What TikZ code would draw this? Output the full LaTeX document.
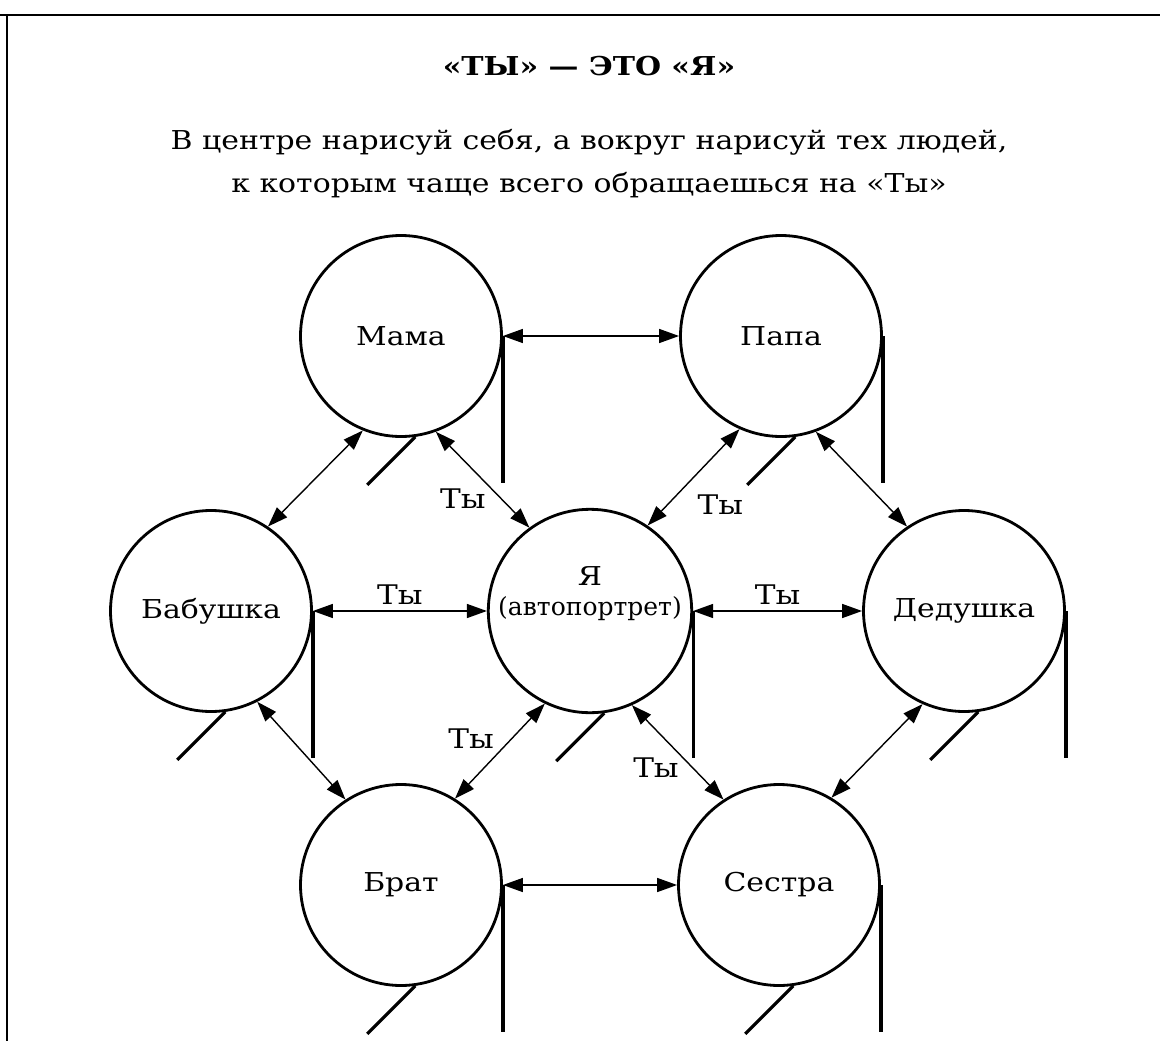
\documentclass[tikz,border=0pt]{standalone}
\usepackage{fontspec}
\setmainfont{DejaVu Serif}[FakeStretch=1.15]
\newfontfamily\plainserif{DejaVu Serif}
\usetikzlibrary{positioning,arrows.meta}
\tikzset{
  person/.style={circle, draw, line width=2.8pt, minimum size=201pt,
              inner sep=0pt, align=center, font=\fontsize{26}{30}\selectfont},
  link/.style={<->, line width=1.4pt},
  stick/.style={line width=3.2pt},
  tylabel/.style={font=\fontsize{27}{28}\selectfont, inner sep=1pt},
}

\begin{document}
\begin{tikzpicture}[x=1pt, y=-1pt, >={Triangle[length=20pt,width=14pt]}]
\useasboundingbox (0,0) rectangle (1160,1041);
% frame
\draw[line width=2.4pt] (0,15) -- (1160,15);
\draw[line width=2.4pt] (7,15) -- (7,1041);

\node[font=\bfseries\fontsize{26}{30}\selectfont] (title) at (589,66) {«ТЫ» — ЭТО «Я»};
\node[font=\fontsize{26}{43}\selectfont, align=center] (task) at (589,164)
  {В центре нарисуй себя, а вокруг нарисуй тех людей,\\
   к которым чаще всего обращаешься на «Ты»};

\node[person] (mama) at (401,336) {Мама};
\node[person] (papa) at (781,336) {Папа};
\node[person] (bab) at (211,611) {Бабушка};
\node[person] (ya) at (590,611)
  {Я\\{\plainserif\fontsize{25}{30}\selectfont(автопортрет)}\\\strut};
\node[person] (ded) at (964,611) {Дедушка};
\node[person] (brat) at (401,885) {Брат};
\node[person] (sestra) at (779,885) {Сестра};

% handle and stem of every circle
\foreach \p in {mama,papa,bab,ya,ded,brat,sestra}{
  \draw[stick] (\p.east) -- ++(0,147);
  \draw[stick] (\p.-82) -- ++(-48,48);
}

\draw[link] (mama) -- (papa);
\draw[link] (mama.248) -- (bab.56);
\draw[link] (mama.290) -- node[tylabel, pos=0.7, left=14pt] (ty1) {Ты} (ya.126);
\draw[link] (papa.246) -- node[tylabel, pos=0.78, right=28pt] (ty2) {Ты} (ya.56);
\draw[link] (papa.290) -- (ded.124);
\draw[link] (bab) -- node[tylabel, above=5pt] (ty3) {Ты} (ya);
\draw[link] (ya) -- node[tylabel, above=5pt] (ty4) {Ты} (ded);
\draw[link] (bab.297) -- (brat.123);
\draw[link] (ya.244) -- node[tylabel, pos=0.37, left=16pt] (ty5) {Ты} (brat.58);
\draw[link] (ya.294) -- node[tylabel, pos=0.66, left=12pt] (ty6) {Ты} (sestra.123);
\draw[link] (ded.246) -- (sestra.59);
\draw[link] (brat) -- (sestra);
\end{tikzpicture}
\end{document}
